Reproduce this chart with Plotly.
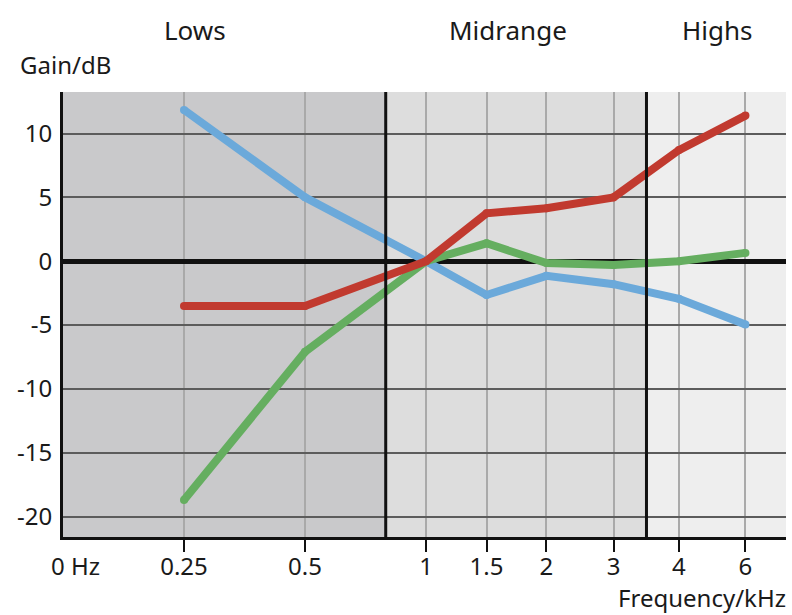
import plotly.graph_objects as go

# ---- data ----
tick_labels = ["0 Hz", "0.25", "0.5", "1", "1.5", "2", "3", "4", "6"]
freqs = ["0.25", "0.5", "1", "1.5", "2", "3", "4", "6"]
blue_gain = [11.85, 5.0, 0.0, -2.65, -1.15, -1.8, -2.95, -4.95]
red_gain = [-3.5, -3.5, 0.0, 3.75, 4.15, 5.0, 8.7, 11.4]
green_gain = [-18.7, -7.1, 0.0, 1.4, -0.15, -0.3, 0.0, 0.65]
y_ticks = [10, 5, 0, -5, -10, -15, -20]
y_tick_text = ["10", "5", "0", "-5", "-10", "-15", "-20"]
bands = ["Lows", "Midrange", "Highs"]

# ---- custom (non-uniform) frequency axis scale ----
axis_scale = dict(zip(tick_labels, [0, 1.0, 2.0, 3.0, 3.5, 3.995, 4.55, 5.09, 5.64]))
band_edges = [0, 2.667, 4.822, 5.975]
band_fill = ["#c9c9cb", "#dddddd", "#eeeeee"]
band_label_x = [1.09, 3.68, 5.41]

def xs(labels):
    return [axis_scale[l] for l in labels]

fig = go.Figure()
for vals, col in [(blue_gain, "#6ba9da"), (green_gain, "#65ae60"), (red_gain, "#c13a2f")]:
    fig.add_trace(go.Scatter(
        x=xs(freqs), y=vals, mode="lines+markers",
        line=dict(color=col, width=8),
        marker=dict(color=col, size=8, line=dict(width=0)),
        showlegend=False, hoverinfo="skip"))

shapes = []
for i in range(3):
    shapes.append(dict(type="rect", xref="x", yref="paper",
                       x0=band_edges[i], x1=band_edges[i + 1], y0=0, y1=1,
                       fillcolor=band_fill[i], line=dict(width=0), layer="below"))
for e in band_edges[1:3]:
    shapes.append(dict(type="line", xref="x", yref="paper", x0=e, x1=e, y0=0, y1=1,
                       line=dict(color="#111111", width=3), layer="above"))

annotations = []
for name, bx in zip(bands, band_label_x):
    annotations.append(dict(text=name, x=bx, xref="x", y=1, yref="paper",
                            yanchor="middle", yshift=62,
                            showarrow=False, font=dict(size=26)))
annotations.append(dict(text="Gain/dB", x=0, xref="paper", xanchor="left", xshift=-45,
                        y=1, yref="paper", yanchor="middle", yshift=28,
                        showarrow=False, font=dict(size=24)))
annotations.append(dict(text="Frequency/kHz", x=1, xref="paper", xanchor="right", xshift=2,
                        y=0, yref="paper", yanchor="middle", yshift=-60,
                        showarrow=False, font=dict(size=24)))
annotations.append(dict(text=tick_labels[0], x=axis_scale[tick_labels[0]], xref="x",
                        xanchor="left", xshift=-14,
                        y=0, yref="paper", yanchor="middle", yshift=-28,
                        showarrow=False, font=dict(size=24)))

fig.update_layout(
    width=792, height=615,
    margin=dict(l=63, r=6, t=92, b=78),
    paper_bgcolor="white", plot_bgcolor="white",
    font=dict(family="Noto Sans", size=24, color="#1a1a1a"),
    shapes=shapes, annotations=annotations,
    xaxis=dict(range=[0, 5.975], tickvals=xs(tick_labels[1:]), ticktext=tick_labels[1:],
               showgrid=True, gridcolor="#a9a9a9", gridwidth=1.5,
               ticks="outside", ticklen=12, tickwidth=1.5, tickcolor="#111111",
               showline=True, linecolor="#111111", linewidth=3,
               ticklabelstandoff=-6,
               zeroline=False, fixedrange=True),
    yaxis=dict(range=[-21.6, 13.25], tickvals=y_ticks, ticktext=y_tick_text,
               showgrid=True, gridcolor="#5c5c5c", gridwidth=1.5,
               zeroline=True, zerolinecolor="#111111", zerolinewidth=5,
               showline=True, linecolor="#111111", linewidth=3,
               ticks="", ticklabelstandoff=3, fixedrange=True),
)

fig.write_html("out.html", config={"displayModeBar": False},
               post_script="document.body.style.margin='0px';")
